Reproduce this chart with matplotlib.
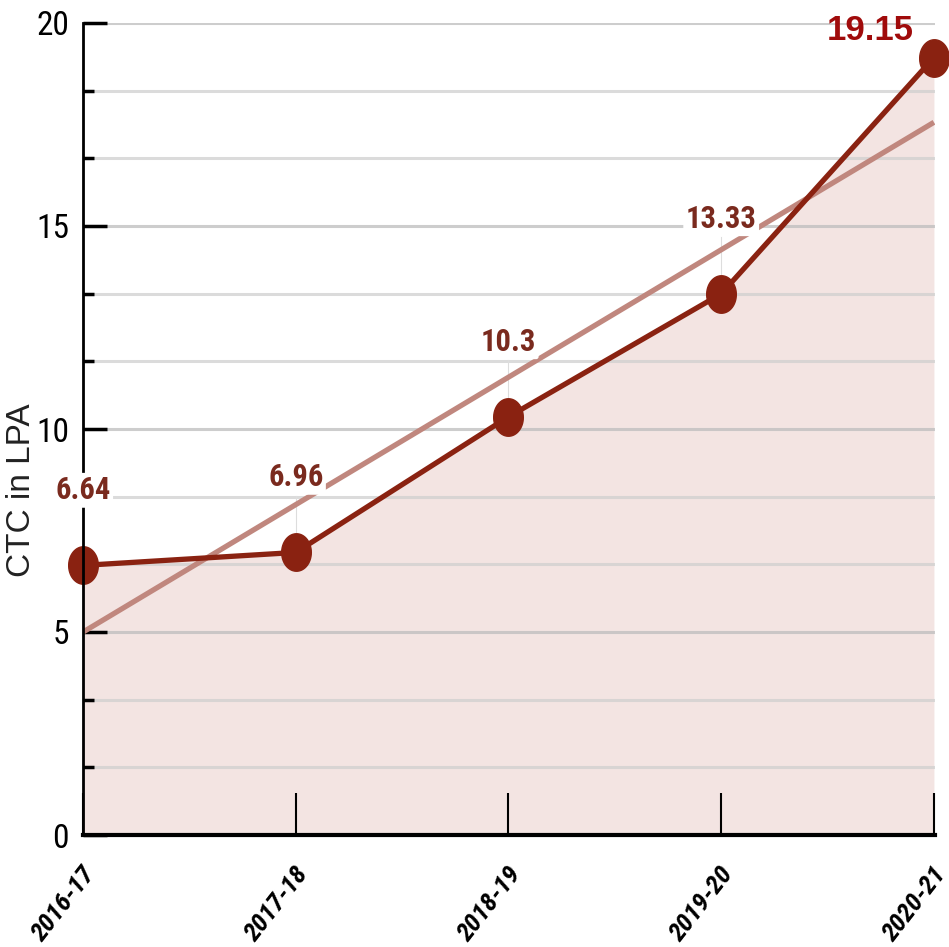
import numpy as np
import matplotlib
matplotlib.use("Agg")
import matplotlib.pyplot as plt
import matplotlib.transforms as mtrans
from matplotlib.path import Path

years = ["2016-17", "2017-18", "2018-19", "2019-20", "2020-21"]
ctc = [6.64, 6.96, 10.3, 13.33, 19.15]
labels = ["6.64", "6.96", "10.3", "13.33", "19.15"]
y_major = [0, 5, 10, 15, 20]

narrow = ["Roboto Condensed", "Liberation Sans Narrow", "Open Sans Condensed", "Roboto", "DejaVu Sans"]

line_col = "#8a2211"
trend_col = "#c0877e"
fill_col = "#f3e4e2"

fig = plt.figure(figsize=(9.49, 9.47), dpi=100)
ax = fig.add_axes([83/949, 1-835/947, (935-83)/949, (835-23)/947])
ax.set_axisbelow(False)

x = np.arange(len(years))
ax.set_xlim(0, 4.005)
ax.set_ylim(0, 20)

# fill under line
ax.fill_between(x, ctc, 0, color=fill_col, zorder=1, lw=0)

# grid lines every 5/3
grid_vals = np.linspace(0, 20, 13)
def is_major(g):
    return any(abs(g - m) < 1e-6 for m in y_major)
for g in grid_vals:
    ax.axhline(g, color="#bdbdbd" if is_major(g) else "#cfcfcf", lw=2.2, alpha=0.75, zorder=1.5)

# trend line (least squares fit of the data)
coef = np.polyfit(x, ctc, 1)
xt = np.array([0, 4])
ax.plot(xt, np.polyval(coef, xt), color=trend_col, lw=3.8, zorder=3, solid_capstyle="butt")

# ellipse marker (reference is slightly stretched vertically)
t = np.linspace(0, 2*np.pi, 60)
ell = Path(np.column_stack([0.79*np.cos(t), np.sin(t)]), closed=True)
ax.plot(x, ctc, color=line_col, lw=3.8, marker=ell, markersize=27, zorder=4, clip_on=False)

# connectors + labels
for i, (xi, v, lab) in enumerate(zip(x, ctc, labels)):
    if i < 4:
        ax.plot([xi, xi], [v + 0.5, v + 1.4], color="#dddddd", lw=0.8, zorder=2.5)
        ax.text(xi, v + 1.85, lab, ha="center", va="center", fontsize=22,
                family=narrow, fontweight="bold", color="#7a2a1e", zorder=6,
                bbox=dict(boxstyle="round,pad=0.08", fc="white", ec="none"))
    else:
        ax.text(xi - 0.3, v + 0.67, lab, ha="center", va="center", fontsize=25,
                family="Liberation Sans", fontweight="bold", color="#a00b0b", zorder=6)

# axes styling
for s in ["top", "right"]:
    ax.spines[s].set_visible(False)
ax.spines["left"].set_linewidth(2)
ax.spines["bottom"].set_linewidth(3)
ax.spines["left"].set_zorder(5)
ax.spines["bottom"].set_zorder(5)

ax.set_yticks(y_major)
ax.set_yticklabels([str(v) for v in y_major], family=narrow, fontsize=24)
ax.set_yticks([g for g in grid_vals if not is_major(g)], minor=True)
ax.tick_params(axis="y", which="major", direction="in", length=17, width=2.5, pad=10)
ax.tick_params(axis="y", which="minor", direction="in", length=8, width=2.5)

ax.set_xticks(x)
ax.set_xticklabels(years, rotation=52, ha="right", va="top", rotation_mode="anchor",
                   family=narrow, fontstyle="italic", fontweight="bold", fontsize=19)
ax.tick_params(axis="x", direction="in", length=30, width=1.5, pad=20)
off = mtrans.ScaledTranslation(-2/100, 0, fig.dpi_scale_trans)
for lbl in ax.get_xticklabels():
    lbl.set_transform(lbl.get_transform() + off)

ax.set_ylabel("CTC in LPA", family="Liberation Sans", fontsize=24, color="#222222")
ax.yaxis.set_label_coords(-0.054, 0.425)

fig.savefig("out.png", dpi=100)
